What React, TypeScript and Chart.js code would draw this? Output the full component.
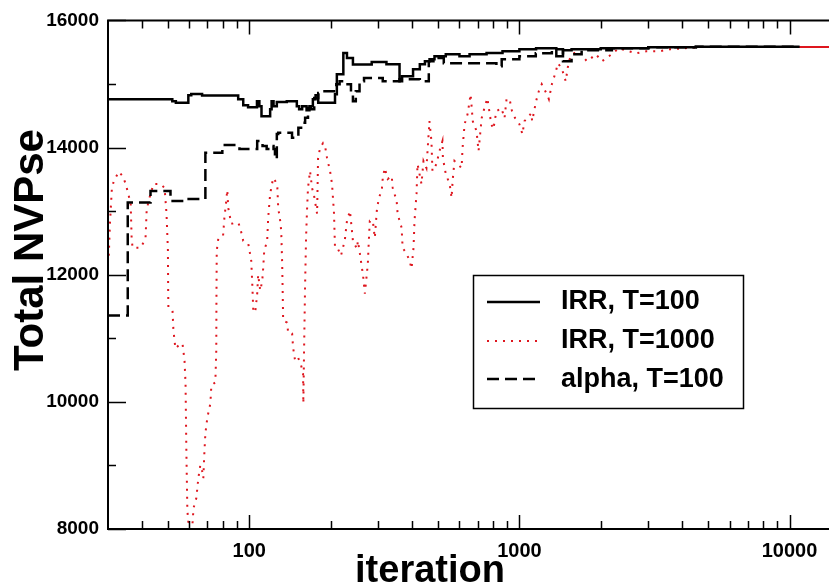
import React, { useEffect, useRef } from 'react';
import { Chart, registerables } from 'chart.js';

Chart.register(...registerables);

// IRR, T=100 (step line) : [iteration, Total NVPse]
const irr100: number[][] = [
  [30, 14761], [51.9, 14729], [53.5, 14703], [59.5, 14824], [61, 14844], [66.9, 14819], [91, 14761],
  [95, 14667], [99, 14635], [106.8, 14729], [109, 14651], [111, 14494], [119.5, 14604], [121, 14729],
  [123, 14651], [126.5, 14718], [137.7, 14729], [150, 14651], [153, 14604], [157, 14651], [163, 14588],
  [167, 14651], [172, 14761], [176, 14824], [180, 14703], [207.7, 14839], [211, 15153], [223, 15487],
  [230, 15409], [242, 15305], [284, 15346], [322, 15310], [360, 15043], [368, 15122], [404, 15232],
  [428, 15310], [447, 15357], [465, 15388], [485, 15435], [534, 15467], [600, 15435], [654, 15467],
  [756, 15487], [866, 15514], [1000, 15545], [1153, 15561], [1370, 15435], [1450, 15530], [1560, 15545],
  [2000, 15561], [3000, 15576], [4500, 15584], [10900, 15584],
];

// IRR, T=1000 (dotted)
const irr1000: number[][] = [
  [30.2, 12300], [30.5, 12800], [31.0, 13350], [31.5, 13470], [32.9, 13620], [34.0, 13550], [34.9, 13427],
  [35.8, 13240], [36.4, 13114], [36.7, 12565], [37.0, 12424], [39.6, 12424], [41.3, 12565], [41.7, 13004],
  [42.4, 13161], [44.2, 13427], [46.9, 13427], [48.6, 13365], [49.4, 12957], [50.0, 12377], [50.1, 11749],
  [50.2, 11482], [52.0, 11435], [52.4, 11122], [53.3, 10839], [54.7, 10886], [56.6, 10918], [57.6, 10651],
  [58.1, 10290], [58.5, 9239], [59.0, 8298], [59.5, 8110], [61.6, 8063], [62.2, 8330], [63.7, 8486],
  [64.8, 8800], [65.9, 9004], [67.1, 8894], [67.6, 8800], [68.2, 9192], [68.8, 9506], [70.0, 9757],
  [71.8, 9976], [72.4, 10259], [74.9, 10306], [75.5, 10808], [75.6, 11592], [75.8, 12377], [76.8, 12565],
  [80.0, 12612], [80.9, 12894], [82.2, 13161], [82.9, 13333], [83.6, 13051], [85.8, 12800], [88.8, 12816],
  [91.1, 12816], [92.6, 12737], [95.0, 12533], [99.2, 12486], [101.7, 12220], [102.6, 11859], [103.5, 11435],
  [105.2, 11404], [107.0, 11700], [107.9, 12000], [109.8, 11750], [111.7, 11900], [112.6, 12100], [113.6, 12377],
  [116.5, 12533], [117.5, 12894], [119.5, 13271], [122.6, 13522], [126.9, 13427], [128.0, 13051], [130.2, 12847],
  [131.3, 12690], [132.4, 12173], [133.0, 11702], [133.5, 11278], [138.1, 11247], [139.3, 11090], [144.1, 11075],
  [145.3, 10855], [147.8, 10651], [151.6, 10698], [155.6, 10573], [158.2, 10447], [158.6, 9976], [159.5, 10761],
  [160.9, 11796], [162.3, 12580], [163.6, 13004], [165.0, 13365], [167.9, 13631], [170.8, 13365], [173.8, 13239],
  [176.8, 13051], [178.3, 12957], [179.8, 13835], [182.9, 13992], [187.6, 14071], [190.8, 14024], [194.1, 13835],
  [199.1, 13631], [202.5, 13427], [206.0, 12957], [206.8, 12690], [207.7, 12424], [213.0, 12408], [218.5, 12298],
  [222.3, 12424], [226.1, 12565], [230.0, 12847], [235.9, 13004], [240.0, 12690], [242.0, 12533], [250.4, 12408],
  [252.5, 12533], [256.8, 12330], [261.2, 12110], [263.4, 12016], [267.9, 11702], [270.2, 11859], [274.8, 12173],
  [277.1, 12533], [279.5, 12847], [286.7, 12847], [291.6, 12580], [296.6, 13004], [301.7, 13208], [309.4, 13318],
  [312.1, 13522], [317.4, 13678], [325.6, 13506], [336.8, 13553], [339.7, 13365], [351.3, 13161], [354.2, 12957],
  [366.5, 12737], [369.6, 12424], [382.3, 12330], [392.1, 12220], [398.8, 12094], [405.6, 12424], [409.1, 12847],
  [416.1, 13271], [419.7, 13741], [434.1, 13427], [441.5, 13788], [452.8, 13678], [464.6, 14416], [472.5, 14102],
  [476.6, 13631], [493.1, 13741], [506, 13945], [519, 14102], [521, 13835], [534, 13584], [552, 13427],
  [561, 13208], [566, 13474], [575, 13788], [590, 13741], [611, 13678], [616, 13992], [627, 14369],
  [643, 14526], [660, 14839], [672, 14416], [694, 14259], [706, 13945], [725, 14463], [742, 14620],
  [761, 14776], [787, 14369], [801, 14290], [822, 14573], [858, 14620], [881, 14463], [897, 14776],
  [923, 14729], [939, 14573], [964, 14463], [981, 14416], [1000, 14369], [1026, 14212], [1044, 14416],
  [1071, 14463], [1106, 14541], [1115, 14416], [1153, 14729], [1180, 14886], [1210, 14996], [1264, 14839],
  [1286, 14761], [1319, 14996], [1365, 15200], [1388, 15325], [1435, 15247], [1484, 15043], [1523, 15357],
  [1563, 15467], [1657, 15514], [1778, 15357], [1840, 15404], [1920, 15467], [2020, 15357], [2195, 15467],
  [2330, 15561], [2700, 15482], [2950, 15514], [3300, 15514], [3600, 15545], [4640, 15580], [8000, 15580],
  [14000, 15580],
];

// alpha, T=100 (dashed step line)
const alpha100: number[][] = [
  [30, 11357], [35.5, 13134], [43.1, 13318], [51.1, 13161], [59, 13192], [68.8, 13918], [79.5, 14039],
  [92, 13976], [107, 14102], [112, 14024], [116, 13976], [120, 14024], [123, 13976], [124.5, 13820],
  [126.5, 14212], [128, 14232], [144, 14154], [152, 14311], [158, 14389], [161, 14467], [165, 14624],
  [169, 14604], [174, 14781], [180, 14860], [184, 14886], [210, 14996], [216, 15043], [226, 14996],
  [238, 14839], [242, 14729], [248, 14886], [256, 15043], [266, 15095], [312, 15043], [360, 15075],
  [428, 15043], [462, 15357], [490, 15409], [525, 15325], [822, 15278], [860, 15388], [1000, 15435],
  [1150, 15482], [1319, 15545], [1450, 15357], [1560, 15467], [1700, 15530], [2200, 15561], [3000, 15576],
  [4500, 15584], [10900, 15584],
];

const X_LABELS = [100, 1000, 10000];
const Y_MAJOR = [8000, 10000, 12000, 14000, 16000];
const Y_MINOR = [9000, 11000, 13000, 15000];
const LEGEND_LABELS = ['IRR, T=100', 'IRR, T=1000', 'alpha, T=100'];
const X_TITLE = 'iteration';
const Y_TITLE = 'Total NVPse';

const FONT = "'Liberation Sans', Arial, Helvetica, sans-serif";
const RED = 'rgb(222,22,30)';

const toPts = (arr: number[][]) => arr.map(([x, y]) => ({ x, y }));

export default function App() {
  const ref = useRef<HTMLCanvasElement>(null);

  useEffect(() => {
    const canvas = ref.current;
    if (!canvas) return;

    const decoPlugin = {
      id: 'deco',
      afterDatasetsDraw(chart: any) {
        const ctx = chart.ctx as CanvasRenderingContext2D;
        const xs = chart.scales.x;
        const ys = chart.scales.y;
        const { left, right, top, bottom } = chart.chartArea;
        ctx.save();
        ctx.strokeStyle = '#000';
        ctx.lineWidth = 2;
        // frame
        ctx.beginPath();
        ctx.moveTo(right + 2, top);
        ctx.lineTo(left, top);
        ctx.lineTo(left, bottom);
        ctx.lineTo(right + 2, bottom);
        ctx.stroke();
        // x ticks (bottom & top, inward)
        ctx.lineWidth = 1.5;
        ctx.beginPath();
        for (let dec = 10; dec <= 100000; dec *= 10) {
          for (let m = 1; m <= 9; m++) {
            const v = m * dec;
            if (v <= xs.min || v >= xs.max) continue;
            const px = Math.round(xs.getPixelForValue(v)) + 0.5;
            const len = m === 1 ? 14 : 8;
            ctx.moveTo(px, bottom);
            ctx.lineTo(px, bottom - len);
            ctx.moveTo(px, top);
            ctx.lineTo(px, top + len);
          }
        }
        // y ticks
        Y_MAJOR.forEach((v) => {
          const py = Math.round(ys.getPixelForValue(v)) + 0.5;
          ctx.moveTo(left, py);
          ctx.lineTo(left + 18, py);
        });
        Y_MINOR.forEach((v) => {
          const py = Math.round(ys.getPixelForValue(v)) + 0.5;
          ctx.moveTo(left, py);
          ctx.lineTo(left + 8, py);
        });
        ctx.stroke();

        // axis titles
        ctx.fillStyle = '#000';
        ctx.textAlign = 'center';
        ctx.textBaseline = 'alphabetic';
        ctx.font = `bold 38px ${FONT}`;
        ctx.fillText(X_TITLE, 430, 582);
        ctx.save();
        ctx.translate(43, 250);
        ctx.rotate(-Math.PI / 2);
        ctx.font = `bold 42px ${FONT}`;
        ctx.fillText(Y_TITLE, 0, 0);
        ctx.restore();

        // legend box
        const bx = 473, by = 275, bw = 270, bh = 133;
        ctx.fillStyle = '#fff';
        ctx.fillRect(bx, by, bw, bh);
        ctx.strokeStyle = '#000';
        ctx.lineWidth = 1.5;
        ctx.strokeRect(bx + 0.5, by + 0.5, bw, bh);
        const rows = [302, 341, 379];
        const bases = [309, 348, 387];
        chart.data.datasets.forEach((ds: any) => {
          const idx = ds.legendIndex;
          ctx.save();
          ctx.strokeStyle = ds.borderColor;
          ctx.lineWidth = idx === 1 ? 2 : 2.5;
          ctx.setLineDash(ds.borderDash || []);
          ctx.beginPath();
          ctx.moveTo(487, rows[idx]);
          ctx.lineTo(540, rows[idx]);
          ctx.stroke();
          ctx.restore();
          ctx.fillStyle = '#000';
          ctx.font = `bold 27px ${FONT}`;
          ctx.textAlign = 'left';
          ctx.textBaseline = 'alphabetic';
          ctx.fillText(LEGEND_LABELS[idx], 561, bases[idx]);
        });
        ctx.restore();
      },
    };

    const chart = new Chart(canvas, {
      type: 'line',
      data: {
        datasets: [
          {
            label: LEGEND_LABELS[0],
            legendIndex: 0,
            data: toPts(irr100),
            borderColor: '#000',
            borderWidth: 2.5,
            stepped: true,
            pointRadius: 0,
            fill: false,
            order: 1,
          } as any,
          {
            label: LEGEND_LABELS[2],
            legendIndex: 2,
            data: toPts(alpha100),
            borderColor: '#000',
            borderWidth: 2.5,
            borderDash: [12, 6],
            stepped: true,
            pointRadius: 0,
            fill: false,
            order: 2,
          } as any,
          {
            label: LEGEND_LABELS[1],
            legendIndex: 1,
            data: toPts(irr1000),
            borderColor: RED,
            borderWidth: 2,
            borderDash: [2, 6],
            pointRadius: 0,
            fill: false,
            tension: 0,
            order: 3,
            segment: {
              borderDash: (c: any) => (c.p0.parsed.x >= 4600 ? [] : [2, 6]),
            },
          } as any,
        ],
      },
      options: {
        animation: false,
        responsive: false,
        events: [],
        layout: { padding: { top: 19, left: 0, right: 0, bottom: 0 } },
        plugins: { legend: { display: false }, tooltip: { enabled: false } },
        scales: {
          x: {
            type: 'logarithmic',
            min: 30,
            max: 14000,
            grid: { display: false, drawTicks: false },
            border: { display: false },
            ticks: {
              autoSkip: false,
              maxRotation: 0,
              padding: 10,
              color: '#000',
              font: { family: FONT, size: 20, weight: 'bold' },
              callback: (v: any) => {
                const n = Number(v);
                const hit = X_LABELS.find((t) => Math.abs(t - n) < 1e-6 * t);
                return hit ? String(hit) : '';
              },
            },
            afterFit: (s: any) => {
              s.height = 55;
              s.paddingLeft = 0;
              s.paddingRight = 0;
            },
          },
          y: {
            min: 8000,
            max: 16000,
            grid: { display: false, drawTicks: false },
            border: { display: false },
            ticks: {
              stepSize: 2000,
              padding: 9,
              color: '#000',
              font: { family: FONT, size: 19, weight: 'bold' },
              callback: (v: any) => String(v),
            },
            afterFit: (s: any) => {
              s.width = 108;
            },
          },
        },
      } as any,
      plugins: [decoPlugin],
    });

    return () => chart.destroy();
  }, []);

  return (
    <div style={{ position: 'fixed', left: 0, top: 0, width: 829, height: 584, background: '#fff', overflow: 'hidden' }}>
      <canvas ref={ref} width={829} height={584} style={{ display: 'block', width: 829, height: 584 }} />
    </div>
  );
}
